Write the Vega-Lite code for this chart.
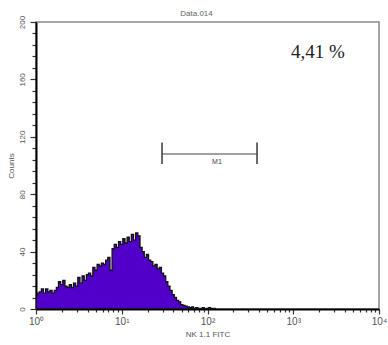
{
  "$schema": "https://vega.github.io/schema/vega-lite/v6.json",
  "width": 343,
  "height": 287,
  "autosize": {"type": "none"},
  "padding": {"left": 36, "top": 22, "right": 9, "bottom": 36},
  "background": "white",
  "title": {"text": "Data.014", "fontSize": 8, "font": "Liberation Sans", "fontWeight": "normal", "color": "#666", "offset": -3, "dx": -11},
  "config": {
    "view": {"stroke": "#888", "strokeWidth": 1.5},
    "axis": {"labelFont": "Liberation Sans", "titleFont": "Liberation Sans", "labelColor": "#555", "titleColor": "#555", "titleFontWeight": "normal", "domainColor": "#000", "domainWidth": 2, "tickColor": "#333", "tickWidth": 1.2, "grid": false, "labelOverlap": false, "labelBound": false}
  },
  "datasets": {
    "hist": [
      {"ch": 1.000, "count": 8}, {"ch": 1.059, "count": 11}, {"ch": 1.122, "count": 12}, {"ch": 1.189, "count": 14},
      {"ch": 1.259, "count": 11}, {"ch": 1.334, "count": 14}, {"ch": 1.413, "count": 12}, {"ch": 1.496, "count": 13},
      {"ch": 1.585, "count": 11}, {"ch": 1.679, "count": 13}, {"ch": 1.778, "count": 15}, {"ch": 1.884, "count": 19},
      {"ch": 1.995, "count": 17}, {"ch": 2.113, "count": 20}, {"ch": 2.239, "count": 16}, {"ch": 2.371, "count": 15},
      {"ch": 2.512, "count": 17}, {"ch": 2.661, "count": 15}, {"ch": 2.818, "count": 18}, {"ch": 2.985, "count": 16},
      {"ch": 3.162, "count": 22}, {"ch": 3.350, "count": 18}, {"ch": 3.548, "count": 23}, {"ch": 3.758, "count": 20},
      {"ch": 3.981, "count": 24}, {"ch": 4.217, "count": 25}, {"ch": 4.467, "count": 23}, {"ch": 4.732, "count": 29},
      {"ch": 5.012, "count": 27}, {"ch": 5.309, "count": 31}, {"ch": 5.623, "count": 30}, {"ch": 5.957, "count": 32},
      {"ch": 6.310, "count": 31}, {"ch": 6.683, "count": 34}, {"ch": 7.079, "count": 36}, {"ch": 7.499, "count": 27},
      {"ch": 7.943, "count": 42}, {"ch": 8.414, "count": 45}, {"ch": 8.913, "count": 43}, {"ch": 9.441, "count": 47},
      {"ch": 10.00, "count": 45}, {"ch": 10.59, "count": 49}, {"ch": 11.22, "count": 46}, {"ch": 11.89, "count": 50},
      {"ch": 12.59, "count": 47}, {"ch": 13.34, "count": 52}, {"ch": 14.13, "count": 48}, {"ch": 14.96, "count": 53},
      {"ch": 15.85, "count": 51}, {"ch": 16.79, "count": 43}, {"ch": 17.78, "count": 40}, {"ch": 18.84, "count": 36},
      {"ch": 19.95, "count": 38}, {"ch": 21.13, "count": 34}, {"ch": 22.39, "count": 33}, {"ch": 23.71, "count": 30},
      {"ch": 25.12, "count": 31}, {"ch": 26.61, "count": 28}, {"ch": 28.18, "count": 29}, {"ch": 29.85, "count": 25},
      {"ch": 31.62, "count": 23}, {"ch": 33.50, "count": 19}, {"ch": 35.48, "count": 16}, {"ch": 37.58, "count": 13},
      {"ch": 39.81, "count": 10}, {"ch": 42.17, "count": 8}, {"ch": 44.67, "count": 6}, {"ch": 47.32, "count": 5},
      {"ch": 50.12, "count": 3}, {"ch": 53.09, "count": 2.5}, {"ch": 56.23, "count": 2}, {"ch": 59.57, "count": 1.5},
      {"ch": 63.10, "count": 1}, {"ch": 66.83, "count": 1.5}, {"ch": 70.79, "count": 0.5}, {"ch": 74.99, "count": 1},
      {"ch": 79.43, "count": 0.5}, {"ch": 84.14, "count": 0}, {"ch": 89.13, "count": 1}, {"ch": 94.41, "count": 0},
      {"ch": 100.0, "count": 0.5}, {"ch": 105.9, "count": 1}, {"ch": 112.2, "count": 0}, {"ch": 118.9, "count": 0.5},
      {"ch": 125.9, "count": 0}
    ]
  },
  "layer": [
    {
      "data": {"name": "hist"},
      "mark": {"type": "area", "interpolate": "step", "color": "#5000C8", "stroke": "#111", "strokeWidth": 1.3, "clip": true},
      "encoding": {
        "x": {
          "field": "ch", "type": "quantitative",
          "scale": {"type": "log", "domain": [1, 10000], "nice": false},
          "axis": {
            "title": "NK 1.1 FITC", "titleFontSize": 8, "titlePadding": 4, "tickCount": 100,
            "values": [1,2,3,4,5,6,7,8,9,10,20,30,40,50,60,70,80,90,100,200,300,400,500,600,700,800,900,1000,2000,3000,4000,5000,6000,7000,8000,9000,10000],
            "labelExpr": "datum.value==1?'10⁰':datum.value==10?'10¹':datum.value==100?'10²':datum.value==1000?'10³':datum.value==10000?'10⁴':''",
            "labelFontSize": 10, "labelOverlap": false, "labelFlush": false, "labelPadding": 2,
            "tickSize": {"condition": {"test": "datum.value==1||datum.value==10||datum.value==100||datum.value==1000||datum.value==10000", "value": 5}, "value": 3}
          }
        },
        "y": {
          "field": "count", "type": "quantitative",
          "scale": {"domain": [0, 200], "nice": false},
          "axis": {
            "title": "Counts", "titleFontSize": 8, "titlePadding": 3, "tickCount": 100,
            "values": [0,8,16,24,32,40,48,56,64,72,80,88,96,104,112,120,128,136,144,152,160,168,176,184,192,200],
            "labelExpr": "indexof([0,40,80,120,160,200], datum.value) >= 0 ? format(datum.value, 'd') : ''",
            "labelAngle": 270, "labelAlign": "center", "labelBaseline": "bottom",
            "labelFontSize": 8, "labelOverlap": false, "labelFlush": false, "labelPadding": 4,
            "tickSize": {"condition": {"test": "indexof([0,40,80,120,160,200], datum.value) >= 0", "value": 6}, "value": 4}
          }
        }
      }
    },
    {
      "data": {"values": [{"x1": 29.5, "x2": 378, "y": 108}]},
      "mark": {"type": "rule", "color": "#444", "strokeWidth": 1.2},
      "encoding": {
        "x": {"field": "x1", "type": "quantitative"},
        "x2": {"field": "x2"},
        "y": {"field": "y", "type": "quantitative"}
      }
    },
    {
      "data": {"values": [{"x": 29.5, "y1": 101, "y2": 116}, {"x": 378, "y1": 101, "y2": 116}]},
      "mark": {"type": "rule", "color": "#444", "strokeWidth": 1.6},
      "encoding": {
        "x": {"field": "x", "type": "quantitative"},
        "y": {"field": "y1", "type": "quantitative"},
        "y2": {"field": "y2"}
      }
    },
    {
      "data": {"values": [{"x": 129, "y": 102.5, "label": "M1"}]},
      "mark": {"type": "text", "font": "Liberation Sans", "fontSize": 7, "color": "#444", "baseline": "middle", "align": "center"},
      "encoding": {
        "x": {"field": "x", "type": "quantitative"},
        "y": {"field": "y", "type": "quantitative"},
        "text": {"field": "label"}
      }
    },
    {
      "data": {"values": [{"x": 1945, "y": 179, "label": "4,41 %"}]},
      "mark": {"type": "text", "font": "Liberation Serif", "fontSize": 19, "color": "#222", "baseline": "middle", "align": "center"},
      "encoding": {
        "x": {"field": "x", "type": "quantitative"},
        "y": {"field": "y", "type": "quantitative"},
        "text": {"field": "label"}
      }
    }
  ]
}
